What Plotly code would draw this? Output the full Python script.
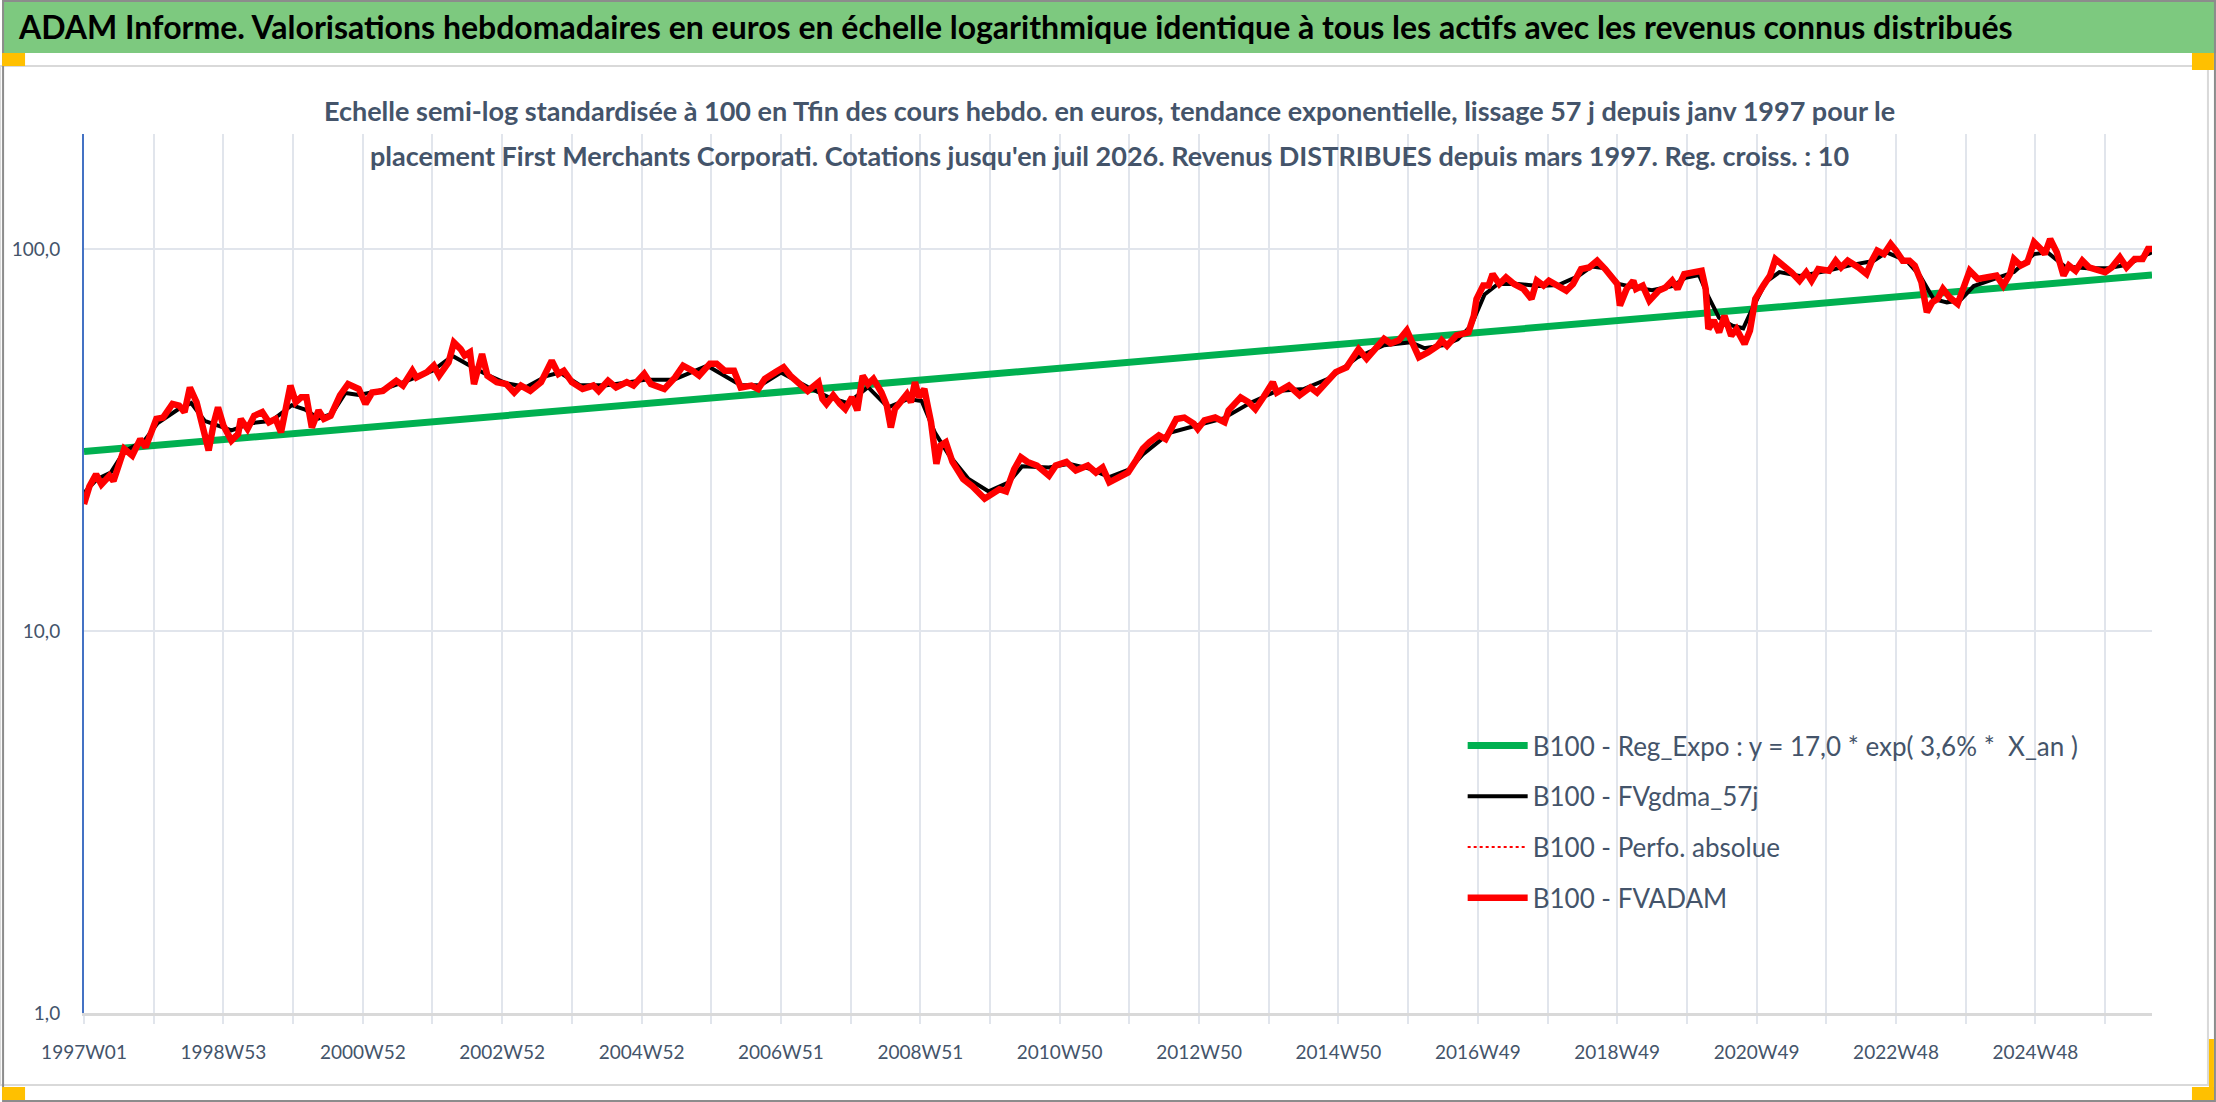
import plotly.graph_objects as go

# Weekly categories: index 0 = 1997W01; one label every 104 weeks, a gridline every 52
week_labels = ["1997W01", "1998W53", "2000W52", "2002W52", "2004W52", "2006W51", "2008W51",
               "2010W50", "2012W50", "2014W50", "2016W49", "2018W49", "2020W49", "2022W48", "2024W48"]
last_week = 1543

# B100 - FVADAM (weekly)
weeks_adam = [
    0, 4, 9, 13, 19, 22, 30, 36, 42, 46, 54, 59, 66, 71, 75, 79, 84, 88, 91, 93, 97, 100, 104, 110, 115,
    117, 122, 127, 133, 138, 143, 147, 151, 154, 158, 162, 166, 170, 175, 179, 184, 191, 197, 205, 210,
    215, 223, 233, 238, 245, 248, 256, 261, 265, 272, 276, 281, 284, 288, 291, 297, 301, 308, 315, 321,
    326, 333, 341, 349, 354, 358, 364, 372, 380,
    384, 391, 397, 405, 410, 418, 423, 433, 441, 447, 454, 459, 467, 472, 478, 485, 490, 498, 503, 508,
    516, 522, 527, 532, 540, 548, 551, 554, 559, 564, 568, 573, 577, 581, 585, 589, 595, 599, 602, 605,
    611, 614, 617, 620, 623, 627, 630, 632, 636, 639, 643, 648, 656, 663, 672, 677, 683, 688, 694, 699,
    704, 711, 716, 720, 725, 733, 740, 749, 755, 760, 765, 773,
    779, 785, 790, 795, 802, 807, 815, 821, 828, 831, 836, 844, 851, 854, 863, 869, 874, 880, 887, 890,
    899, 907, 915, 920, 929, 934, 942, 951, 957, 965, 970, 975, 981, 987, 990, 996, 1003, 1010, 1013,
    1017, 1024, 1033, 1037, 1039, 1044, 1048, 1051, 1056, 1061, 1067, 1074, 1080, 1084, 1089, 1093,
    1101, 1106, 1111, 1117, 1123, 1129, 1135, 1140, 1144, 1146, 1151, 1156,
    1158, 1163, 1168, 1175, 1180, 1185, 1189, 1194, 1201, 1207, 1210, 1212, 1216, 1220, 1224, 1229,
    1233, 1239, 1243, 1247, 1253, 1258, 1262, 1267, 1274, 1280, 1285, 1289, 1294, 1302, 1307, 1311,
    1316, 1324, 1330, 1334, 1338, 1343, 1348, 1352, 1357, 1362, 1366, 1371, 1375, 1379, 1383, 1387,
    1392, 1398, 1402, 1407, 1413, 1419, 1427, 1432, 1437, 1440, 1445, 1450, 1455, 1460, 1463, 1467,
    1472, 1477, 1481, 1486, 1491, 1496, 1503, 1508, 1513, 1519, 1524, 1530, 1536, 1540, 1543,
]
fvadam = [
    21.5, 23.9, 25.7, 24.2, 25.5, 24.7, 30.0, 28.8, 31.8, 30.3, 35.9, 36.2, 39.3, 38.9, 37.4, 43.4, 39.7,
    35.2, 32.5, 29.7, 35.2, 38.5, 34.5, 31.5, 32.8, 35.9, 33.8, 36.6, 37.4, 35.2, 35.9, 33.1, 38.9, 43.9,
    39.7, 40.9, 40.9, 34.1, 37.8, 35.9, 36.6, 41.4, 44.3, 43.0, 39.3, 42.1, 42.5, 45.2, 43.9, 48.0, 46.1,
    47.6, 49.5, 46.6, 50.5, 56.9, 54.7, 52.6, 53.7, 44.3, 53.1, 46.6, 44.8, 44.3, 42.1, 43.9, 42.5, 44.8,
    51.0, 47.1, 48.0, 44.8, 43.0, 43.9,
    42.5, 45.2, 43.4, 44.8, 43.9, 47.1, 44.3, 43.0, 46.1, 49.5, 48.0, 46.6, 50.1, 50.1, 48.0, 48.0, 43.4,
    43.9, 43.0, 45.7, 47.6, 49.0, 46.6, 44.8, 42.5, 44.8, 40.5, 39.3, 41.4, 39.3, 38.1, 40.9, 37.8, 46.6,
    44.3, 45.7, 42.1, 38.9, 34.1, 38.1, 40.5, 41.7, 39.7, 44.8, 40.9, 43.0, 38.1, 35.2, 27.4, 30.6, 31.2,
    27.7, 25.0, 23.9, 22.2, 22.9, 23.5, 23.2, 26.5, 28.5, 27.7, 27.1, 26.3, 25.5, 27.1, 27.7, 26.3, 27.1,
    26.0, 26.8, 24.5, 25.5,
    26.0, 28.0, 30.0, 31.2, 32.5, 31.8, 35.9, 36.2, 34.9, 33.8, 35.6, 36.2, 35.2, 37.8, 40.9, 39.7, 38.1,
    40.9, 44.8, 42.1, 43.9, 41.4, 43.4, 42.1, 45.2, 47.6, 49.0, 54.7, 51.6, 55.3, 58.2, 56.6, 57.7, 61.2,
    58.2, 52.1, 53.7, 55.8, 57.7, 55.8, 59.4, 60.5, 66.9, 74.0, 80.2, 80.2, 86.0, 81.0, 84.3, 81.0, 78.6,
    74.0, 82.6, 80.2, 82.6, 79.3, 77.8, 81.0, 88.6, 89.5, 93.2, 88.6, 83.5, 81.0, 71.1, 78.6, 82.6,
    78.6, 80.2, 73.2, 77.8, 79.3, 82.6, 78.6, 86.0, 86.9, 87.7, 78.6, 61.7, 65.0, 60.5, 66.9, 59.3, 61.7,
    56.4, 61.1, 74.0, 80.2, 85.2, 94.1, 91.3, 86.9, 82.6, 86.9, 82.6, 88.6, 87.7, 93.2, 89.5, 93.2, 89.5,
    86.0, 93.2, 99.0, 97.0, 103.1, 99.0, 93.2, 93.2, 90.5, 81.8, 68.3, 72.5, 74.0, 78.6, 74.7, 71.8, 78.6,
    87.7, 83.5, 84.3, 85.2, 80.2, 86.0, 94.1, 90.5, 92.3, 104.1, 100.0, 97.0, 106.2, 98.0, 85.2, 90.5,
    87.7, 93.2, 89.5, 87.7, 86.9, 89.5, 95.1, 89.5, 94.1, 94.1, 100.0, 100.0,
]

# B100 - FVgdma_57j (smoothed line)
weeks_gdma = [
    0, 10, 20, 30, 45, 55, 70, 80, 90, 100, 110, 125, 140, 155, 165, 175, 185, 195, 205, 220, 240, 260,
    275, 290, 300, 315, 330, 345, 355, 370, 390, 420, 440, 465, 490, 505, 520, 540, 555, 570, 585, 600,
    615, 625, 635, 645, 660, 675, 690, 700, 720, 735, 750, 765, 780, 790, 810, 830, 850, 870, 890, 910,
    930, 950, 970, 990, 1000, 1015, 1025, 1035, 1045, 1055, 1070, 1085, 1100, 1115, 1125, 1135, 1145,
    1160, 1170, 1185, 1195, 1205, 1212, 1220, 1230, 1238, 1245, 1255, 1265, 1280, 1300, 1320, 1335,
    1345, 1360, 1370, 1380, 1390, 1400, 1410, 1425, 1440, 1455, 1465, 1478, 1495, 1510, 1525, 1540, 1543,
]
fvgdma = [
    23.0, 25.0, 26.0, 29.5, 31.5, 35.0, 38.0, 39.5, 35.5, 34.5, 33.5, 35.0, 35.5, 39.0, 38.0, 36.0, 37.0,
    42.0, 41.5, 42.5, 45.0, 48.0, 52.5, 49.0, 47.0, 44.5, 43.5, 46.5, 47.5, 44.0, 44.0, 45.5, 45.5, 49.5,
    44.0, 44.0, 47.5, 43.5, 41.0, 39.5, 43.5, 38.5, 40.5, 40.0, 33.0, 29.0, 25.0, 23.2, 24.5, 27.0, 26.8,
    27.4, 26.6, 25.3, 26.5, 29.0, 33.0, 34.5, 36.0, 39.5, 42.5, 43.0, 46.0, 52.0, 56.0, 57.0, 55.0, 56.0,
    58.0, 63.0, 76.0, 81.0, 81.0, 80.0, 80.5, 85.0, 90.0, 89.0, 81.0, 79.0, 78.0, 80.0, 84.0, 85.5, 75.0,
    66.0, 63.0, 62.0, 70.0, 82.0, 87.0, 85.0, 87.5, 91.0, 93.0, 98.0, 93.0, 85.0, 74.0, 72.5, 73.5, 80.0,
    83.5, 87.0, 97.0, 98.0, 90.0, 89.0, 89.0, 91.0, 97.0, 98.0,
]

# B100 - Reg_Expo (straight line on the log scale)
weeks_reg = [0, 1543]
reg_expo = [29.5, 85.5]

FONT = "Lato, Open Sans, sans-serif"
SLATE = "#44546A"
GRID = "#E1E5EC"

W, H = 2216, 1102
L, R, T, B = 82, 64, 134, 89
PW, PH = W - L - R, H - T - B


def px(x):
    return (x - L) / PW


def py(y):
    return (H - B - y) / PH


fig = go.Figure()

fig.add_trace(go.Scatter(
    x=weeks_reg, y=reg_expo, mode="lines", legendgroup="a",
    name="B100 - Reg_Expo : y = 17,0 * exp( 3,6% *  X_an )",
    line=dict(color="#00B050", width=7),
))
fig.add_trace(go.Scatter(
    x=weeks_gdma, y=fvgdma, mode="lines", legendgroup="b",
    name="B100 - FVgdma_57j",
    line=dict(color="black", width=4),
))
fig.add_trace(go.Scatter(
    x=weeks_adam, y=fvadam, mode="lines", legendgroup="c",
    name="B100 - Perfo. absolue",
    line=dict(color="#FF0000", width=2, dash="dot"),
))
fig.add_trace(go.Scatter(
    x=weeks_adam, y=fvadam, mode="lines", legendgroup="d",
    name="B100 - FVADAM",
    line=dict(color="#FF0000", width=6.5),
))

tick_vals = list(range(0, last_week, 52))
tick_text = [week_labels[i // 2] if i % 2 == 0 else "" for i in range(len(tick_vals))]

shapes = [
    # title banner and chart-area frame
    dict(type="rect", xref="paper", yref="paper", x0=px(0), x1=px(W), y0=py(0), y1=py(53),
         fillcolor="#7DC97F", line=dict(width=0), layer="below"),
    dict(type="rect", xref="paper", yref="paper", x0=px(-2), x1=px(2208), y0=py(66), y1=py(1085),
         line=dict(color="#D9D9D9", width=2), layer="below"),
    dict(type="rect", xref="paper", yref="paper", x0=px(1), x1=px(W - 1), y0=py(1), y1=py(H - 1),
         line=dict(color="#8C8C8C", width=2), layer="above"),
]
# Excel selection handles
for x0, x1, y0, y1 in [(0, 23, 53, 66), (2192, 2214, 53, 70), (0, 23, 1087, 1100),
                       (2192, 2214, 1087, 1100), (2209, 2214, 1039, 1100)]:
    shapes.append(dict(type="rect", xref="paper", yref="paper", x0=px(x0), x1=px(x1),
                       y0=py(y1), y1=py(y0), fillcolor="#FFC000", line=dict(width=0), layer="above"))

annotations = [
    dict(text="<b>ADAM Informe. Valorisations hebdomadaires en euros en échelle logarithmique identique "
              "à tous les actifs avec les revenus connus distribués</b>",
         xref="paper", yref="paper", x=px(14), y=py(27), xanchor="left", yanchor="middle",
         showarrow=False, font=dict(family=FONT, size=32, color="black")),
    dict(text="<b>Echelle semi-log standardisée à 100 en Tfin des cours hebdo. en euros, tendance "
              "exponentielle, lissage 57 j depuis janv 1997 pour le</b>",
         xref="paper", yref="paper", x=px(1108), y=py(110), xanchor="center", yanchor="middle",
         showarrow=False, font=dict(family=FONT, size=27, color=SLATE)),
    dict(text="<b>placement First Merchants Corporati. Cotations jusqu'en juil 2026. Revenus DISTRIBUES "
              "depuis mars 1997. Reg. croiss. : 10</b>",
         xref="paper", yref="paper", x=px(1108), y=py(155), xanchor="center", yanchor="middle",
         showarrow=False, font=dict(family=FONT, size=27, color=SLATE)),
]

fig.update_layout(
    width=W, height=H,
    margin=dict(l=L, r=R, t=T, b=B),
    paper_bgcolor="white", plot_bgcolor="white",
    font=dict(family=FONT, color=SLATE),
    showlegend=True,
    legend=dict(x=px(1462), y=py(722), xanchor="left", yanchor="top",
                font=dict(family=FONT, size=26, color=SLATE),
                bgcolor="rgba(0,0,0,0)", itemwidth=60, tracegroupgap=14),
    xaxis=dict(
        range=[0, last_week], tickmode="array", tickvals=tick_vals, ticktext=tick_text,
        showgrid=True, gridcolor=GRID, gridwidth=2,
        showline=True, linecolor="#D9D9D9", linewidth=3,
        ticks="outside", ticklen=8, tickcolor=GRID, tickwidth=2,
        tickfont=dict(family=FONT, size=19, color=SLATE), ticklabelstandoff=12,
        zeroline=False,
    ),
    yaxis=dict(
        type="log", range=[0, 2.301], tickmode="array", tickvals=[1, 10, 100],
        ticktext=["1,0", "10,0", "100,0"],
        showgrid=True, gridcolor=GRID, gridwidth=2,
        showline=True, linecolor="#4472C4", linewidth=2, ticks="",
        tickfont=dict(family=FONT, size=19, color=SLATE), ticklabelstandoff=18,
        zeroline=False,
    ),
    shapes=shapes,
    annotations=annotations,
)

# no default page margin, so the figure fills the window exactly
fig.write_html("out.html", config={"displayModeBar": False},
               post_script="document.body.style.margin='0';")
